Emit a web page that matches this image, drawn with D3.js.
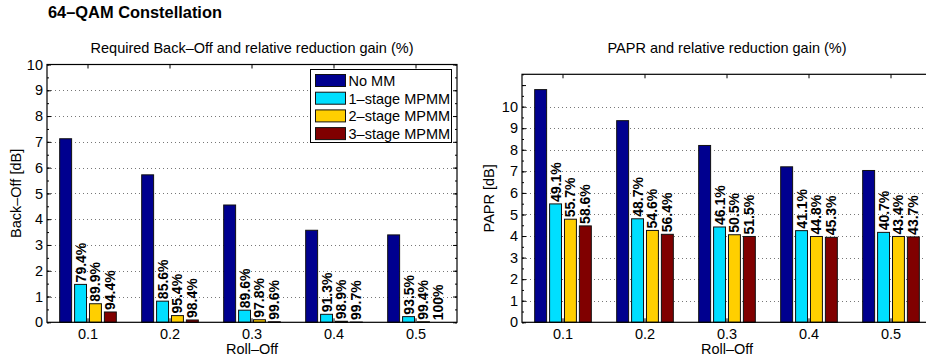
<!DOCTYPE html>
<html>
<head>
<meta charset="utf-8">
<script src="https://cdn.jsdelivr.net/npm/d3@7"></script>
<style>
  body { margin: 0; background: #fff; }
  text { font-family: "Liberation Sans", Arial, Helvetica, sans-serif; fill: #000; }
</style>
</head>
<body>
<script>
// data
const rollOff = ["0.1", "0.2", "0.3", "0.4", "0.5"];
const series = ["No MM", "1–stage MPMM", "2–stage MPMM", "3–stage MPMM"];
const colors = ["#00008f", "#00dfff", "#ffcf00", "#800000"];

const backoffNoMM = [7.12, 5.72, 4.55, 3.57, 3.39];
const backoff1 = [1.47, 0.82, 0.47, 0.31, 0.22];
const backoff2 = [0.72, 0.26, 0.10, 0.04, 0.02];
const backoff3 = [0.40, 0.09, 0.02, 0.01, 0.00];
const backoffGain1 = ["79.4%", "85.6%", "89.6%", "91.3%", "93.5%"];
const backoffGain2 = ["89.9%", "95.4%", "97.8%", "98.9%", "99.4%"];
const backoffGain3 = ["94.4%", "98.4%", "99.6%", "99.7%", "100%"];

const paprNoMM = [10.79, 9.35, 8.20, 7.21, 7.04];
const papr1 = [5.49, 4.80, 4.42, 4.25, 4.17];
const papr2 = [4.78, 4.26, 4.06, 3.98, 3.98];
const papr3 = [4.47, 4.08, 3.98, 3.94, 3.96];
const paprGain1 = ["49.1%", "48.7%", "46.1%", "41.1%", "40.7%"];
const paprGain2 = ["55.7%", "54.6%", "50.5%", "44.8%", "43.4%"];
const paprGain3 = ["58.6%", "56.4%", "51.5%", "45.3%", "43.7%"];

const yTicks = [0, 1, 2, 3, 4, 5, 6, 7, 8, 9, 10];

const fontSize = "14.5px";

const svg = d3.select("body").append("svg")
    .attr("width", 926)
    .attr("height", 359);

svg.append("text")
    .attr("x", 48).attr("y", 18)
    .style("font-size", "16.4px").style("font-weight", "bold")
    .text("64–QAM Constellation");

function drawPanel(o) {
    const right = o.left + o.width;
    const x = d3.scaleBand().domain(rollOff).range([o.left, right]);
    const y = d3.scaleLinear().domain([0, o.yMax]).range([o.bottom, o.top]);
    const groupW = x.bandwidth() * 0.727;
    const x1 = d3.scaleBand().domain(series).range([0, groupW])
        .paddingInner(0.2).paddingOuter(0.1);

    const g = svg.append("g");

    // dotted grid at the labelled ticks
    g.selectAll("line.grid")
        .data(yTicks.filter(t => t > 0 && t < o.yMax))
        .enter().append("line")
        .attr("x1", o.left).attr("x2", right)
        .attr("y1", d => Math.round(y(d)) + 0.5)
        .attr("y2", d => Math.round(y(d)) + 0.5)
        .attr("stroke", "#777")
        .attr("stroke-width", 1)
        .attr("stroke-dasharray", "1,3");

    // bars
    o.values.forEach((vals, i) => {
        g.selectAll(null)
            .data(vals)
            .enter().append("rect")
            .attr("x", (d, j) => x(rollOff[j]) + (x.bandwidth() - groupW) / 2 + x1(series[i]))
            .attr("y", d => y(d))
            .attr("width", x1.bandwidth())
            .attr("height", d => o.bottom - y(d))
            .attr("fill", colors[i])
            .attr("stroke", "#111")
            .attr("stroke-width", 1);
    });

    // gain labels above the reduced bars
    o.labels.forEach((labs, k) => {
        const i = k + 1;
        g.selectAll(null)
            .data(labs)
            .enter().append("text")
            .attr("transform", (d, j) => {
                const cx = x(rollOff[j]) + (x.bandwidth() - groupW) / 2 + x1(series[i]) + x1.bandwidth() / 2;
                return "translate(" + cx + "," + (y(o.values[i][j]) - 2) + ") rotate(-90)";
            })
            .attr("dy", "0.36em")
            .style("font-size", "14px")
            .style("font-weight", "bold")
            .text(d => d);
    });

    // axes, ticks pointing inward
    const minor = d3.range(0, o.yMax + 0.001, 0.5);
    g.append("g").attr("transform", "translate(" + o.left + ",0)")
        .call(d3.axisLeft(y).tickValues(minor).tickSize(-2).tickFormat(""));
    g.append("g").attr("transform", "translate(" + right + ",0)")
        .call(d3.axisRight(y).tickValues(minor).tickSize(-2).tickFormat(""));
    g.append("g").attr("transform", "translate(" + right + ",0)")
        .call(d3.axisRight(y).tickValues(o.majorTicks).tickSize(-4).tickFormat(""));
    g.append("g").attr("transform", "translate(" + o.left + ",0)")
        .call(d3.axisLeft(y).tickValues(o.majorTicks).tickSize(-4).tickPadding(4)
            .tickFormat(d => yTicks.includes(d) ? d : ""));
    g.append("g").attr("transform", "translate(0," + o.top + ")")
        .call(d3.axisTop(x).tickSize(-4).tickFormat(""));
    g.append("g").attr("transform", "translate(0," + o.bottom + ")")
        .call(d3.axisBottom(x).tickSize(-4).tickPadding(6));

    g.selectAll(".domain").remove();
    g.selectAll(".tick line").attr("stroke", "#000");
    g.selectAll(".tick text").style("font-size", fontSize)
        .style("font-family", "'Liberation Sans', Arial, Helvetica, sans-serif");

    g.append("rect")
        .attr("x", o.left).attr("y", o.top)
        .attr("width", o.width).attr("height", o.bottom - o.top)
        .attr("fill", "none").attr("stroke", "#000").attr("stroke-width", 1.2);

    // titles
    g.append("text")
        .attr("x", o.left + o.width / 2).attr("y", 53)
        .attr("text-anchor", "middle").style("font-size", fontSize)
        .text(o.title);
    g.append("text")
        .attr("x", o.left + o.width / 2).attr("y", 354)
        .attr("text-anchor", "middle").style("font-size", fontSize)
        .text("Roll–Off");
    g.append("text")
        .attr("transform", "translate(" + o.yLabelX + "," + ((o.top + o.bottom) / 2) + ") rotate(-90)")
        .attr("text-anchor", "middle").style("font-size", fontSize)
        .text(o.yLabel);

    if (o.legend) {
        const lg = g.append("g").attr("transform", "translate(310.5,69.5)");
        lg.append("rect")
            .attr("width", 141).attr("height", 73)
            .attr("fill", "#fff").attr("stroke", "#000").attr("stroke-width", 1);
        series.forEach((s, i) => {
            lg.append("rect")
                .attr("x", 5).attr("y", 5 + i * 17.7)
                .attr("width", 30).attr("height", 12)
                .attr("fill", colors[i]).attr("stroke", "#111");
            lg.append("text")
                .attr("x", 38).attr("y", 16.5 + i * 17.7)
                .style("font-size", fontSize)
                .text(s);
        });
    }
}

drawPanel({
    left: 47, top: 64.5, bottom: 322.3, width: 410, yMax: 10,
    majorTicks: yTicks,
    values: [backoffNoMM, backoff1, backoff2, backoff3],
    labels: [backoffGain1, backoffGain2, backoffGain3],
    title: "Required Back–Off and relative reduction gain (%)",
    yLabel: "Back–Off [dB]", yLabelX: 21, legend: true
});

drawPanel({
    left: 522, top: 74.3, bottom: 322.3, width: 410, yMax: 11.5,
    majorTicks: [0, 1, 2, 3, 4, 5, 6, 7, 8, 9, 10, 11],
    values: [paprNoMM, papr1, papr2, papr3],
    labels: [paprGain1, paprGain2, paprGain3],
    title: "PAPR and relative reduction gain (%)",
    yLabel: "PAPR [dB]", yLabelX: 494, legend: false
});
</script>
</body>
</html>
